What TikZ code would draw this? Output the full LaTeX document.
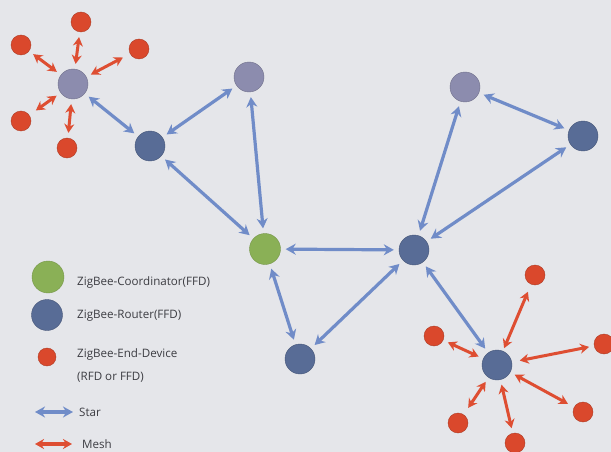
\documentclass[tikz,border=0pt]{standalone}
\usepackage{fontspec}
\setmainfont{Open Sans}
\usetikzlibrary{arrows.meta}
\definecolor{bg}{RGB}{229,230,234}
\definecolor{routerc}{RGB}{88,108,150}
\definecolor{routerl}{RGB}{140,140,174}
\definecolor{coordc}{RGB}{138,176,86}
\definecolor{endc}{RGB}{218,72,44}
\definecolor{starc}{RGB}{112,140,200}
\definecolor{meshc}{RGB}{222,78,50}
\definecolor{txtc}{RGB}{60,60,66}
\tikzset{
  router/.style={circle, minimum size=30pt, inner sep=0pt, draw=routerc!80!black, line width=0.4pt, fill=routerc},
  lrouter/.style={circle, minimum size=30pt, inner sep=0pt, draw=routerl!80!black, line width=0.4pt, fill=routerl},
  coord/.style={circle, minimum size=31pt, inner sep=0pt, draw=coordc!85!black, line width=0.4pt, fill=coordc},
  enddev/.style={circle, minimum size=20pt, inner sep=0pt, draw=endc!80!black, line width=0.4pt, fill=endc},
  star/.style={draw=starc, line width=3.2pt, {Stealth[length=10pt,width=11pt]}-{Stealth[length=10pt,width=11pt]}, shorten >=5pt, shorten <=5pt},
  mesh/.style={draw=meshc, line width=3pt, {Stealth[length=9pt,width=10pt]}-{Stealth[length=9pt,width=10pt]}, shorten >=5pt, shorten <=5pt},
  lbl/.style={anchor=west, text=txtc, font=\fontsize{11.6}{13}\selectfont, inner sep=0pt}
}
\begin{document}
\begin{tikzpicture}[x=1pt,y=-1pt]
\fill[bg] (0,0) rectangle (611,452);
\useasboundingbox (0,0) rectangle (611,452);
% main nodes
\node[lrouter] (A) at (73,84) {};
\node[router] (B) at (150,146) {};
\node[lrouter] (C) at (249,77) {};
\node[coord] (K) at (265,249) {};
\node[router] (D) at (414,250) {};
\node[lrouter] (E) at (465,87) {};
\node[router] (F) at (583,136) {};
\node[router] (G) at (300,359) {};
\node[router] (H) at (497,365) {};
% end devices around A
\node[enddev] (a1) at (81,22) {};
\node[enddev] (a2) at (21,45) {};
\node[enddev] (a3) at (139,49) {};
\node[enddev] (a4) at (21,121) {};
\node[enddev] (a5) at (67,148) {};
% end devices around H
\node[enddev] (h1) at (535,275) {};
\node[enddev] (h2) at (434,336) {};
\node[enddev] (h3) at (604,344) {};
\node[enddev] (h4) at (583,412) {};
\node[enddev] (h5) at (458,423) {};
\node[enddev] (h6) at (515,443) {};
% star links
\draw[star] (A) -- (B);
\draw[star] (B) -- (C);
\draw[star] (C) -- (K);
\draw[star] (B) -- (K);
\draw[star] (K) -- (D);
\draw[star] (D) -- (E);
\draw[star] (E) -- (F);
\draw[star] (F) -- (D);
\draw[star] (K) -- (G);
\draw[star] (G) -- (D);
\draw[star] (D) -- (H);
% mesh links
\draw[mesh] (A) -- (a1);
\draw[mesh] (A) -- (a2);
\draw[mesh, shorten >=8pt] (A) -- (a3);
\draw[mesh, shorten >=8pt] (A) -- (a4);
\draw[mesh] (A) -- (a5);
\draw[mesh, shorten <=3pt, shorten >=8pt] (H) -- (h1);
\draw[mesh] (H) -- (h2);
\draw[mesh, shorten <=8pt] (H) -- (h3);
\draw[mesh, shorten >=7pt] (H) -- (h4);
\draw[mesh, shorten >=8pt] (H) -- (h5);
\draw[mesh] (H) -- (h6);
% legend
\node[coord, minimum size=32pt] (lk) at (48,277) {};
\node[router, minimum size=31pt] (lr) at (47,315) {};
\node[enddev, minimum size=18pt] (le) at (47,357) {};
\node[lbl] (tk) at (77,282) {ZigBee-Coordinator(FFD)};
\node[lbl] (tr) at (77,316) {ZigBee-Router(FFD)};
\node[lbl] (te) at (77,354) {ZigBee-End-Device};
\node[lbl] (te2) at (77,377) {(RFD or FFD)};
\coordinate (s1) at (35,412);
\coordinate (s2) at (73,412);
\coordinate (m1) at (35,444);
\coordinate (m2) at (72,444);
\draw[star, line width=4.4pt, shorten >=0pt, shorten <=0pt] (s1) -- (s2);
\draw[mesh, line width=4.4pt, shorten >=0pt, shorten <=0pt] (m1) -- (m2);
\node[lbl] (ts) at (79,412) {Star};
\node[lbl] (tm) at (82,444) {Mesh};
\end{tikzpicture}
\end{document}
